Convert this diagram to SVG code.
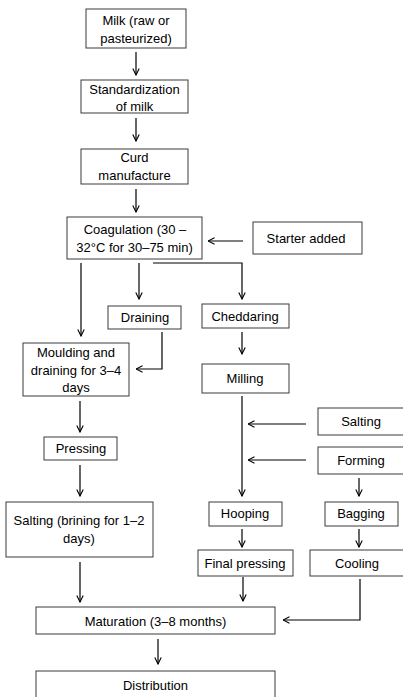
<svg xmlns="http://www.w3.org/2000/svg" width="403" height="697" viewBox="0 0 403 697">
<defs>
<marker id="ah" viewBox="0 0 8 8" refX="7.5" refY="4" markerWidth="8" markerHeight="8" markerUnits="userSpaceOnUse" orient="auto">
<path d="M1,0.8 L7.5,4 L1,7.2" fill="none" stroke="#000" stroke-width="1.1"/>
</marker>
<style>
.b{fill:#fff;stroke:#3a3a3a;stroke-width:1}
.t{font-family:"Liberation Sans",Arial,sans-serif;font-size:13px;fill:#000;text-anchor:middle}
.c{fill:none;stroke:#000;stroke-width:1.2;marker-end:url(#ah)}
</style>
</defs>
<rect width="403" height="697" fill="#fff"/>
<g id="connectors">
<path class="c" d="M136,52 V75"/>
<path class="c" d="M136,118 V141"/>
<path class="c" d="M136,189 V212"/>
<path class="c" d="M243,241 H208"/>
<path class="c" d="M81,263 V336"/>
<path class="c" d="M139,263 V299"/>
<path class="c" d="M153,263 H242 V299"/>
<path class="c" d="M162,332 V369 H136"/>
<path class="c" d="M242,332 V354"/>
<path class="c" d="M242,396 V496"/>
<path class="c" d="M306,424 H248"/>
<path class="c" d="M306,460 H248"/>
<path class="c" d="M359,478 V496"/>
<path class="c" d="M80,401 V432"/>
<path class="c" d="M80,465 V496"/>
<path class="c" d="M242,529 V547"/>
<path class="c" d="M359,529 V547"/>
<path class="c" d="M80,562 V602"/>
<path class="c" d="M243,577 V601"/>
<path class="c" d="M360,579 V620 H283"/>
<path class="c" d="M158,639 V664"/>
</g>
<g id="milk"><rect class="b" x="86" y="9" width="100" height="39"/><text class="t" x="136" y="25">Milk (raw or</text><text class="t" x="136" y="43">pasteurized)</text></g>
<g id="standardization"><rect class="b" x="81" y="80" width="107" height="33"/><text class="t" x="134.5" y="94">Standardization</text><text class="t" x="134.5" y="111">of milk</text></g>
<g id="curd"><rect class="b" x="81" y="149" width="107" height="35"/><text class="t" x="134.5" y="162">Curd</text><text class="t" x="134.5" y="180">manufacture</text></g>
<g id="coagulation"><rect class="b" x="67" y="217" width="135" height="42"/><text class="t" x="135" y="234">Coagulation (30 –</text><text class="t" x="134.5" y="252">32°C for 30–75 min)</text></g>
<g id="starter"><rect class="b" x="253" y="222" width="109" height="32"/><text class="t" x="306" y="243">Starter added</text></g>
<g id="draining"><rect class="b" x="108" y="306" width="73" height="23"/><text class="t" x="145" y="322">Draining</text></g>
<g id="cheddaring"><rect class="b" x="202" y="304" width="87" height="24"/><text class="t" x="245" y="321">Cheddaring</text></g>
<g id="moulding"><rect class="b" x="23" y="343" width="106" height="53"/><text class="t" x="76" y="357">Moulding and</text><text class="t" x="76" y="375">draining for 3–4</text><text class="t" x="76" y="392">days</text></g>
<g id="milling"><rect class="b" x="202" y="364" width="87" height="29"/><text class="t" x="245" y="383">Milling</text></g>
<g id="salting"><rect class="b" x="318" y="408" width="86" height="27"/><text class="t" x="361" y="426">Salting</text></g>
<g id="forming"><rect class="b" x="318" y="447" width="86" height="27"/><text class="t" x="361" y="465">Forming</text></g>
<g id="pressing"><rect class="b" x="44" y="437" width="73" height="23"/><text class="t" x="81" y="453">Pressing</text></g>
<g id="brining"><rect class="b" x="6" y="502" width="147" height="55"/><text class="t" x="79" y="525">Salting (brining for 1–2</text><text class="t" x="79" y="543">days)</text></g>
<g id="hooping"><rect class="b" x="209" y="502" width="73" height="24"/><text class="t" x="245" y="518">Hooping</text></g>
<g id="bagging"><rect class="b" x="325" y="502" width="73" height="24"/><text class="t" x="361" y="518">Bagging</text></g>
<g id="finalpressing"><rect class="b" x="198" y="550" width="95" height="26"/><text class="t" x="245" y="568">Final pressing</text></g>
<g id="cooling"><rect class="b" x="310" y="550" width="94" height="26"/><text class="t" x="357" y="568">Cooling</text></g>
<g id="maturation"><rect class="b" x="36" y="607" width="239" height="27"/><text class="t" x="155.5" y="626">Maturation (3–8 months)</text></g>
<g id="distribution"><rect class="b" x="36" y="671" width="239" height="40"/><text class="t" x="155.5" y="690">Distribution</text></g>
</svg>
